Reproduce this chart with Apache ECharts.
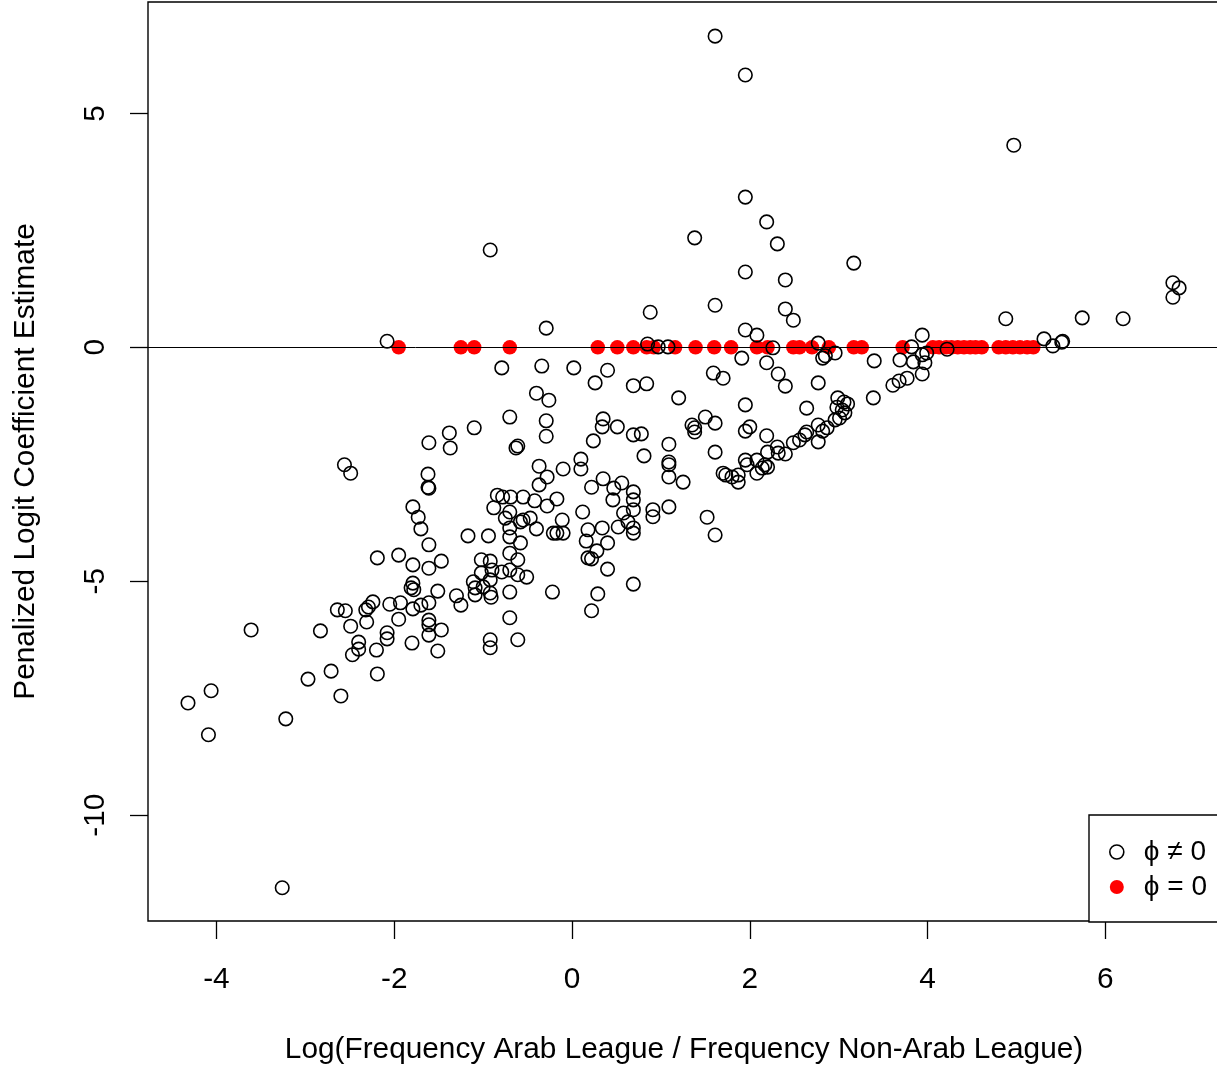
<!DOCTYPE html>
<html>
<head>
<meta charset="utf-8">
<script src="https://cdn.jsdelivr.net/npm/echarts@6/dist/echarts.min.js"></script>
<style>
html,body{margin:0;padding:0;background:#fff;}
#chart{width:1217px;height:1070px;}
</style>
</head>
<body>
<div id="chart"></div>
<script>
// Tick labels
const xTicks = [-4, -2, 0, 2, 4, 6];
const yTicks = [-10, -5, 0, 5];

// Series names
const nameNonZero = 'ϕ ≠ 0';
const nameZero = 'ϕ = 0';

// phi != 0 (open circles)
const openX = [-4.32,-4.09,-4.06,-3.61,-3.26,-3.22,-2.97,-2.83,-2.71,-2.64,-2.60,-2.56,-2.55,-2.49,-2.49,-2.47,-2.40,-2.40,-2.32,-2.31,
-2.29,-2.24,-2.20,-2.19,-2.19,-2.08,-2.08,-2.08,-2.05,-1.95,-1.95,-1.93,-1.81,-1.80,-1.79,-1.79,-1.79,-1.79,-1.78,-1.73,
-1.70,-1.70,-1.62,-1.62,-1.61,-1.61,-1.61,-1.61,-1.61,-1.61,-1.61,-1.61,-1.51,-1.51,-1.47,-1.47,-1.38,-1.37,-1.30,-1.25,
-1.17,-1.11,-1.10,-1.09,-1.09,-1.02,-1.02,-1.00,-0.94,-0.92,-0.92,-0.92,-0.92,-0.91,-0.92,-0.92,-0.90,-0.88,-0.84,-0.79,
-0.79,-0.78,-0.75,-0.70,-0.70,-0.70,-0.70,-0.70,-0.70,-0.70,-0.70,-0.69,-0.63,-0.61,-0.61,-0.61,-0.61,-0.58,-0.55,-0.55,
-0.58,-0.51,-0.47,-0.42,-0.40,-0.40,-0.37,-0.37,-0.34,-0.29,-0.29,-0.29,-0.28,-0.28,-0.26,-0.22,-0.21,-0.17,-0.17,-0.10,
-0.11,-0.10,0.02,0.10,0.10,0.12,0.16,0.18,0.18,0.22,0.22,0.22,0.24,0.26,0.28,0.29,0.34,0.34,0.35,0.35,
0.40,0.40,0.40,0.46,0.47,0.51,0.52,0.56,0.58,0.63,0.69,0.69,0.69,0.69,0.69,0.69,0.69,0.69,0.78,0.81,
0.84,0.85,0.88,0.91,0.91,0.97,1.08,1.09,1.09,1.09,1.09,1.09,1.20,1.25,1.35,1.38,1.38,1.38,1.50,1.52,
1.59,1.61,1.61,1.61,1.61,1.61,1.70,1.70,1.73,1.80,1.87,1.87,1.91,1.95,1.95,1.95,1.95,1.95,1.95,1.95,
1.97,2.00,2.08,2.08,2.08,2.14,2.17,2.19,2.19,2.19,2.20,2.20,2.26,2.31,2.31,2.32,2.32,2.40,2.40,2.40,
2.40,2.49,2.49,2.56,2.62,2.64,2.64,2.77,2.77,2.77,2.77,2.82,2.85,2.82,2.87,2.96,2.96,2.98,2.99,3.01,
3.04,3.06,3.07,3.10,3.17,3.39,3.40,3.61,3.68,3.77,3.69,3.82,3.84,3.94,3.94,3.94,3.97,3.99,4.22,4.88,
4.97,5.31,5.41,5.51,5.52,5.74,6.20,6.76,6.83,6.76];
const openY = [-7.60,-8.28,-7.34,-6.04,-11.55,-7.94,-7.09,-6.06,-6.92,-5.61,-7.45,-2.51,-5.63,-2.69,-5.96,-6.57,-6.30,-6.45,-5.61,-5.87,
-5.55,-5.44,-6.47,-6.98,-4.50,0.13,-6.10,-6.23,-5.49,-4.44,-5.81,-5.46,-5.14,-6.32,-3.41,-4.65,-5.04,-5.59,-5.18,-3.63,
-3.88,-5.51,-2.71,-2.99,-3.01,-2.04,-4.22,-4.72,-5.46,-5.83,-5.93,-6.15,-5.21,-6.49,-4.57,-6.04,-1.83,-2.15,-5.31,-5.51,
-4.03,-5.01,-1.72,-5.14,-5.29,-4.54,-4.82,-5.12,-4.03,2.08,-4.57,-4.97,-5.25,-5.34,-6.25,-6.42,-4.76,-3.43,-3.16,-0.44,
-4.80,-3.20,-3.65,-1.49,-3.52,-3.86,-4.05,-4.40,-4.76,-5.23,-5.78,-3.20,-2.15,-2.11,-4.54,-4.86,-6.25,-3.73,-3.20,-3.69,
-4.18,-4.91,-3.65,-3.28,-0.98,-3.88,-2.54,-2.94,-0.40,0.41,-1.57,-1.90,-2.77,-3.39,-1.13,-5.23,-3.97,-3.97,-3.24,-3.97,
-3.69,-2.60,-0.44,-2.39,-2.60,-3.52,-4.14,-3.90,-4.50,-4.52,-5.63,-2.99,-2.00,-0.76,-4.35,-5.27,-1.70,-3.86,-1.53,-2.81,
-0.49,-4.18,-4.74,-3.26,-3.01,-1.70,-3.84,-2.90,-3.54,-3.73,-0.82,-1.87,-3.09,-3.26,-3.47,-3.86,-3.97,-5.06,-1.85,-2.32,
-0.78,0.07,0.75,-3.47,-3.62,0.01,0.01,-2.07,-2.45,-2.51,-2.77,-3.41,-1.08,-2.88,-1.66,-1.72,-1.81,2.34,-1.49,-3.63,
-0.55,6.65,0.90,-1.62,-2.24,-4.01,-0.66,-2.69,-2.73,-2.77,-2.73,-2.88,-0.23,5.82,3.21,1.61,0.37,-1.23,-1.79,-2.41,
-2.51,-1.70,0.26,-2.41,-2.69,-2.58,-2.51,2.68,-0.33,-1.89,-2.24,-2.56,-0.01,2.21,-2.13,-0.57,-2.26,1.44,0.82,-0.83,
-2.28,0.58,-2.04,-1.98,-1.87,-1.30,-1.81,0.09,-0.76,-1.66,-2.02,-0.23,-0.18,-1.79,-1.72,-0.12,-1.55,-1.28,-1.08,-1.51,
-1.34,-1.17,-1.40,-1.21,1.80,-1.08,-0.29,-0.81,-0.72,-0.66,-0.27,0.01,-0.31,0.26,-0.16,-0.57,-0.33,-0.12,-0.04,0.61,
4.32,0.18,0.03,0.11,0.13,0.63,0.61,1.38,1.27,1.07];

// phi = 0 (red filled, all at estimate 0)
const zeroX = [-1.95,-1.25,-1.10,-0.70,0.29,0.51,0.69,0.84,0.92,1.16,1.39,1.60,1.79,2.08,2.20,2.49,2.56,2.70,2.89,3.17,
3.26,3.72,4.06,4.13,4.21,4.27,4.34,4.41,4.48,4.54,4.61,4.80,4.88,4.96,5.04,5.12,5.19];
const zeroY = zeroX.map(() => 0);

const FONT = '"Liberation Sans", Arial, Helvetica, sans-serif';
const FS = 29.8;

const chart = echarts.init(document.getElementById('chart'), null, {renderer: 'canvas'});
chart.setOption({
  backgroundColor: '#ffffff',
  animation: false,
  textStyle: {fontFamily: FONT, color: '#000'},
  grid: {
    left: 148, right: -3, top: 2, bottom: 149,
    show: true, borderColor: '#000', borderWidth: 1.4, backgroundColor: 'transparent',
    containLabel: false, outerBoundsMode: 'none'
  },
  legend: {
    orient: 'vertical',
    left: 1089, top: 815,
    padding: [23, 60, 21, 20],
    itemWidth: 14, itemHeight: 14, itemGap: 7,
    borderColor: '#000', borderWidth: 1.4, backgroundColor: '#fff',
    textStyle: {fontFamily: FONT, fontSize: 28, color: '#000', lineHeight: 27, padding: [0, 0, 0, 15]},
    data: [
      {name: nameNonZero, icon: 'circle', itemStyle: {color: '#fff', borderColor: '#000', borderWidth: 1.6}},
      {name: nameZero, icon: 'circle', itemStyle: {color: '#ff0000', borderWidth: 0}}
    ],
    selectedMode: false
  },
  xAxis: {
    type: 'value', min: -4.77, max: 7.29,
    name: 'Log(Frequency Arab League / Frequency Non-Arab League)',
    nameLocation: 'middle', nameGap: 114,
    nameTextStyle: {fontFamily: FONT, fontSize: FS, color: '#000'},
    axisLine: {show: false, onZero: false},
    axisTick: {show: true, customValues: xTicks, length: 18, inside: false, lineStyle: {color: '#000', width: 1.3}},
    axisLabel: {show: true, customValues: xTicks, margin: 44, fontFamily: FONT, fontSize: FS, color: '#000'},
    splitLine: {show: false}
  },
  yAxis: {
    type: 'value', min: -12.26, max: 7.38,
    name: 'Penalized Logit Coefficient Estimate',
    nameLocation: 'middle', nameGap: 107, nameRotate: 90,
    nameTextStyle: {fontFamily: FONT, fontSize: FS, color: '#000'},
    axisLine: {show: false, onZero: false},
    axisTick: {show: true, customValues: yTicks, length: 18, inside: false, lineStyle: {color: '#000', width: 1.3}},
    axisLabel: {show: true, customValues: yTicks, margin: 37, rotate: 90, fontFamily: FONT, fontSize: FS, color: '#000'},
    splitLine: {show: false}
  },
  series: [
    {
      name: nameZero, type: 'scatter',
      data: zeroX.map((x, i) => [x, zeroY[i]]),
      symbol: 'circle', symbolSize: 14.5,
      itemStyle: {color: '#ff0000', borderWidth: 0, opacity: 1},
      emphasis: {disabled: true},
      markLine: {
        silent: true, symbol: ['none', 'none'],
        label: {show: false},
        lineStyle: {color: '#000', width: 1, type: 'solid'},
        data: [{yAxis: 0}]
      }
    },
    {
      name: nameNonZero, type: 'scatter',
      data: openX.map((x, i) => [x, openY[i]]),
      symbol: 'circle', symbolSize: 13.5,
      itemStyle: {color: 'rgba(255,255,255,0)', borderColor: '#000', borderWidth: 1.6, opacity: 1},
      emphasis: {disabled: true}
    }
  ]
});
</script>
</body>
</html>
